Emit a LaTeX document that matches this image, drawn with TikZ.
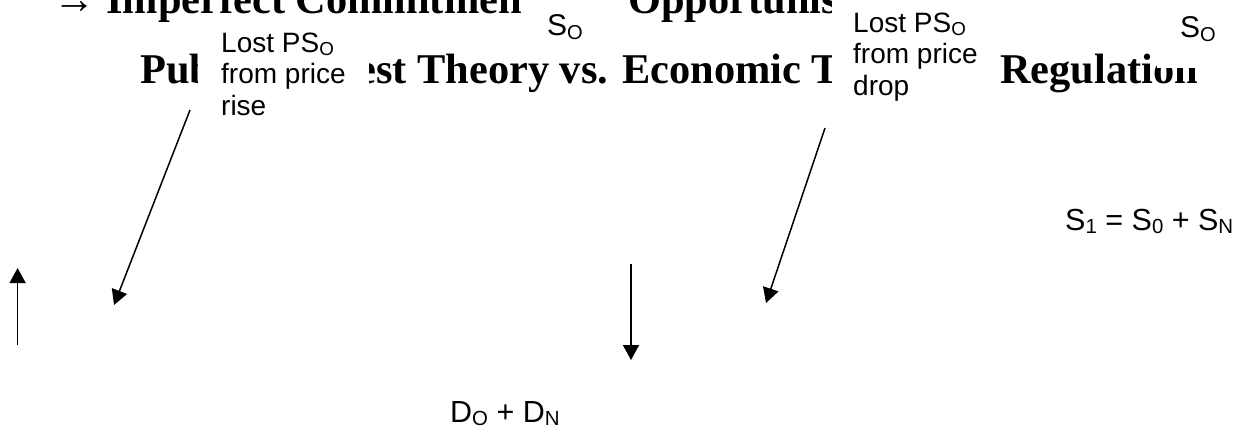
\documentclass[tikz,border=0pt]{standalone}
\usepackage{graphicx}
\usepackage{fontspec}
\setmainfont{Liberation Serif}
\newfontfamily\arialf{Liberation Sans}
\usetikzlibrary{arrows.meta}
\newcommand{\lsub}[1]{\raisebox{-0.13em}{\scalebox{0.67}{#1}}}
\begin{document}
\begin{tikzpicture}[x=1pt,y=-1pt,
  title/.style={font=\fontsize{42.4}{42.4}\selectfont\bfseries, inner sep=0pt, anchor=base west},
  lostlbl/.style={font=\arialf\fontsize{28}{31.5}\selectfont, fill=white, inner ysep=0pt, anchor=north west, align=left},
  slbl/.style={font=\arialf\fontsize{30}{34}\selectfont, fill=white, inner ysep=0pt, anchor=north west, align=left},
  plainlbl/.style={font=\arialf\fontsize{30.5}{34}\selectfont, inner sep=0pt, anchor=base west},
  arr/.style={line width=1.5pt, -{Triangle[length=15pt,width=16pt]}}]
\useasboundingbox (0,0) rectangle (1246,429);
\clip (0,0) rectangle (1246,429);
% title (partly hidden by the label boxes)
\node[title] (t1) at (53,13) {→ Imperfect Commitment →};
\node[title] (t1b) at (628,13) {Opportunism};
\node[title] (t2) at (140,83) {Public Interest Theory vs. Economic Theory of Regulation};
% label boxes
\node[lostlbl, inner xsep=23pt] (lrise) at (198,24)
  {\rule{0pt}{28pt}Lost PS\lsub{O}\\from price\\rise\rule[-20pt]{0pt}{0pt}};
\node[lostlbl, inner xsep=21pt] (ldrop) at (832,-5)
  {\rule{0pt}{37pt}Lost PS\lsub{O}\\from price\\drop\rule[-30pt]{0pt}{0pt}};
\node[slbl, inner xsep=24pt, text width=57pt] (so1) at (523,-5)
  {\rule{0pt}{40pt}S\lsub{O}\rule[-13pt]{0pt}{0pt}};
\node[slbl, inner xsep=23pt, text width=60pt] (so2) at (1157,-5)
  {\rule{0pt}{42pt}S\lsub{O}\rule[-31pt]{0pt}{0pt}};
\node[plainlbl] (s1) at (1065,230) {S\lsub{1} = S\lsub{0} + S\lsub{N}};
\node[plainlbl] (dd) at (450,422) {D\lsub{O} + D\lsub{N}};
% arrows
\coordinate (a1s) at (190,110); \coordinate (a1e) at (114,305);
\coordinate (a2s) at (17.6,345); \coordinate (a2e) at (17.6,268);
\coordinate (a3s) at (631,264); \coordinate (a3e) at (631,360);
\coordinate (a4s) at (825,128); \coordinate (a4e) at (766,303);
\draw[arr] (a1s) -- (a1e);
\draw[arr] (a2s) -- (a2e);
\draw[arr] (a3s) -- (a3e);
\draw[arr] (a4s) -- (a4e);
\end{tikzpicture}
\end{document}
